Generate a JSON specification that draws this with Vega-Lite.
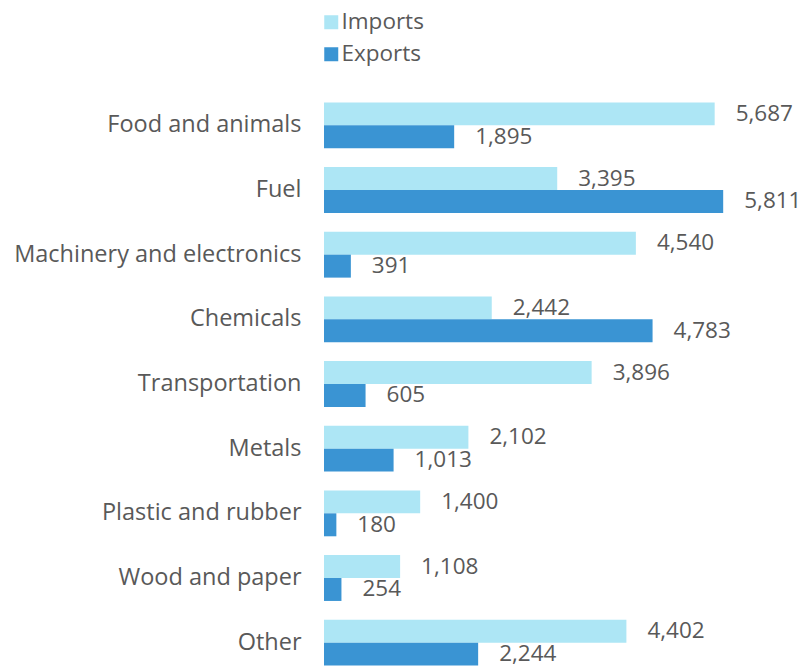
{
  "$schema": "https://vega.github.io/schema/vega-lite/v6.json",
  "autosize": "none",
  "width": 474,
  "height": 582,
  "padding": {"left": 324, "top": 93, "right": 0, "bottom": 0},
  "background": "white",
  "config": {"view": {"stroke": null}, "font": "Open Sans"},
  "data": {"values": [
    {"category": "Food and animals", "type": "Imports", "value": 5687},
    {"category": "Food and animals", "type": "Exports", "value": 1895},
    {"category": "Fuel", "type": "Imports", "value": 3395},
    {"category": "Fuel", "type": "Exports", "value": 5811},
    {"category": "Machinery and electronics", "type": "Imports", "value": 4540},
    {"category": "Machinery and electronics", "type": "Exports", "value": 391},
    {"category": "Chemicals", "type": "Imports", "value": 2442},
    {"category": "Chemicals", "type": "Exports", "value": 4783},
    {"category": "Transportation", "type": "Imports", "value": 3896},
    {"category": "Transportation", "type": "Exports", "value": 605},
    {"category": "Metals", "type": "Imports", "value": 2102},
    {"category": "Metals", "type": "Exports", "value": 1013},
    {"category": "Plastic and rubber", "type": "Imports", "value": 1400},
    {"category": "Plastic and rubber", "type": "Exports", "value": 180},
    {"category": "Wood and paper", "type": "Imports", "value": 1108},
    {"category": "Wood and paper", "type": "Exports", "value": 254},
    {"category": "Other", "type": "Imports", "value": 4402},
    {"category": "Other", "type": "Exports", "value": 2244}
  ]},
  "encoding": {
    "y": {
      "field": "category", "type": "nominal", "sort": null,
      "scale": {"paddingInner": 0.29, "paddingOuter": 0.145},
      "axis": {"title": null, "domain": false, "ticks": false, "labelPadding": 23, "labelFontSize": 23.5, "labelColor": "#595959", "labelFont": "Open Sans", "labelLimit": 0}
    },
    "yOffset": {"field": "type", "type": "nominal", "sort": ["Imports", "Exports"]},
    "x": {
      "field": "value", "type": "quantitative",
      "scale": {"domain": [0, 6900], "nice": false},
      "axis": null
    }
  },
  "layer": [
    {
      "mark": {"type": "bar"},
      "encoding": {
        "color": {
          "field": "type", "type": "nominal",
          "sort": ["Imports", "Exports"],
          "scale": {"domain": ["Imports", "Exports"], "range": ["#ade6f5", "#3a94d3"]},
          "legend": {
            "title": null, "orient": "none", "legendX": -4, "legendY": -82,
            "symbolType": "square", "symbolSize": 196, "symbolStrokeWidth": 0,
            "labelFontSize": 22.5, "labelColor": "#595959", "labelFont": "Open Sans",
            "rowPadding": 9, "labelOffset": -1
          }
        }
      }
    },
    {
      "mark": {"type": "text", "align": "left", "baseline": "middle", "dx": 21, "fontSize": 22.5, "color": "#595959", "font": "Open Sans"},
      "encoding": {
        "text": {"field": "value", "type": "quantitative", "format": ","}
      }
    }
  ]
}
